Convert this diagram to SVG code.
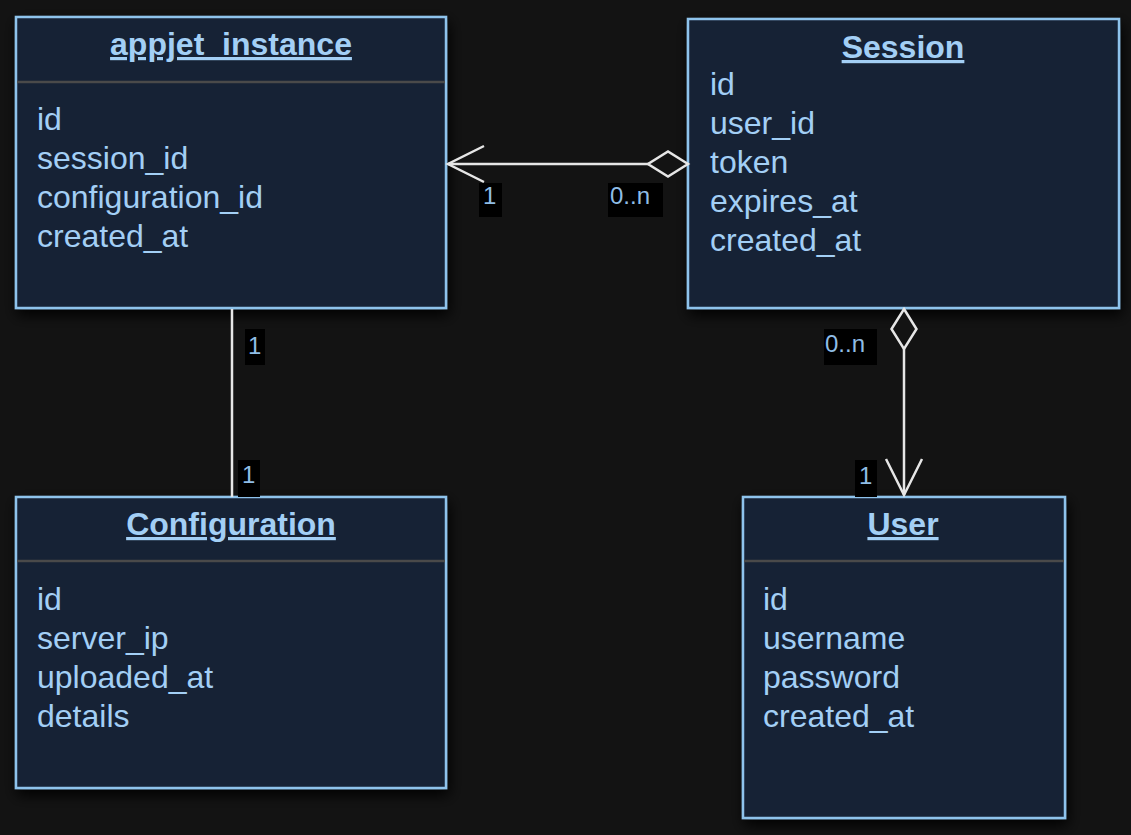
<svg xmlns="http://www.w3.org/2000/svg" width="1131" height="835" viewBox="0 0 1131 835">
  <style>
    .box { fill: #162034; stroke: #8ec3ec; stroke-width: 2.5; filter: url(#shadow); }
    .divider { stroke: #4a4a4a; stroke-width: 2.5; }
    .title { font-family: "Liberation Sans", Arial, sans-serif; font-size: 32px; font-weight: bold; fill: #a3cff5; text-anchor: middle; text-decoration: underline; }
    .attr { font-family: "Liberation Sans", Arial, sans-serif; font-size: 32px; fill: #a3cff5; }
    .edge { fill: none; stroke: #e6e6e6; stroke-width: 2.5; }
    .lblbg { fill: #000000; }
    .lbl { font-family: "Liberation Sans", Arial, sans-serif; font-size: 24px; fill: #8fbde6; }
  </style>
  <defs>
    <filter id="shadow" x="-10%" y="-10%" width="125%" height="135%">
      <feDropShadow dx="2" dy="6" stdDeviation="7" flood-color="#000000" flood-opacity="0.95"/>
    </filter>
    <!-- open arrowhead drawn at the target end -->
    <marker id="open-arrow" markerUnits="userSpaceOnUse" orient="auto" refX="0" refY="0" markerWidth="40" markerHeight="40" overflow="visible">
      <path d="M-36,-18 L0,0 L-36,18" fill="none" stroke="#e6e6e6" stroke-width="2.5"/>
    </marker>
    <!-- hollow aggregation diamond at the source end -->
    <marker id="diamond" markerUnits="userSpaceOnUse" orient="auto" refX="0" refY="0" markerWidth="42" markerHeight="28" overflow="visible">
      <path d="M0,0 L20,-12.5 L40,0 L20,12.5 Z" fill="#131313" stroke="#e6e6e6" stroke-width="2.5"/>
    </marker>
  </defs>

  <rect x="0" y="0" width="1131" height="835" fill="#131313"/>

  <g id="appjet_instance">
    <rect class="box" x="16" y="17" width="430" height="291"/>
    <line class="divider" x1="17" y1="82" x2="445" y2="82"/>
    <text class="title" x="231" y="55">appjet_instance</text>
    <text class="attr" x="37" y="130">id</text>
    <text class="attr" x="37" y="169">session_id</text>
    <text class="attr" x="37" y="208">configuration_id</text>
    <text class="attr" x="37" y="247">created_at</text>
  </g>

  <g id="Session">
    <rect class="box" x="688" y="19" width="431" height="289"/>
    <text class="title" x="903" y="58">Session</text>
    <text class="attr" x="710" y="95">id</text>
    <text class="attr" x="710" y="134">user_id</text>
    <text class="attr" x="710" y="173">token</text>
    <text class="attr" x="710" y="212">expires_at</text>
    <text class="attr" x="710" y="251">created_at</text>
  </g>

  <g id="Configuration">
    <rect class="box" x="16" y="497" width="430" height="291"/>
    <line class="divider" x1="17" y1="561" x2="445" y2="561"/>
    <text class="title" x="231" y="535">Configuration</text>
    <text class="attr" x="37" y="610">id</text>
    <text class="attr" x="37" y="649">server_ip</text>
    <text class="attr" x="37" y="688">uploaded_at</text>
    <text class="attr" x="37" y="727">details</text>
  </g>

  <g id="User">
    <rect class="box" x="743" y="497" width="322" height="321"/>
    <line class="divider" x1="744" y1="561" x2="1064" y2="561"/>
    <text class="title" x="903" y="535">User</text>
    <text class="attr" x="763" y="610">id</text>
    <text class="attr" x="763" y="649">username</text>
    <text class="attr" x="763" y="688">password</text>
    <text class="attr" x="763" y="727">created_at</text>
  </g>

  <g id="connectors">
    <!-- Session aggregates appjet_instance -->
    <path class="edge" d="M688,164 L448,164" marker-start="url(#diamond)" marker-end="url(#open-arrow)"/>
    <rect class="lblbg" x="479" y="183" width="23" height="34"/>
    <text class="lbl" x="483" y="204">1</text>
    <rect class="lblbg" x="608" y="183" width="55" height="34"/>
    <text class="lbl" x="610" y="204">0..n</text>

    <!-- appjet_instance to Configuration -->
    <path class="edge" d="M232,309 L232,497"/>
    <rect class="lblbg" x="245" y="329" width="20" height="36"/>
    <text class="lbl" x="248" y="354">1</text>
    <rect class="lblbg" x="238" y="460" width="22" height="37"/>
    <text class="lbl" x="242" y="483">1</text>

    <!-- Session aggregates User -->
    <path class="edge" d="M904,309 L904,495" marker-start="url(#diamond)" marker-end="url(#open-arrow)"/>
    <rect class="lblbg" x="824" y="329" width="53" height="36"/>
    <text class="lbl" x="825" y="352">0..n</text>
    <rect class="lblbg" x="855" y="460" width="22" height="37"/>
    <text class="lbl" x="859" y="484">1</text>
  </g>
</svg>
